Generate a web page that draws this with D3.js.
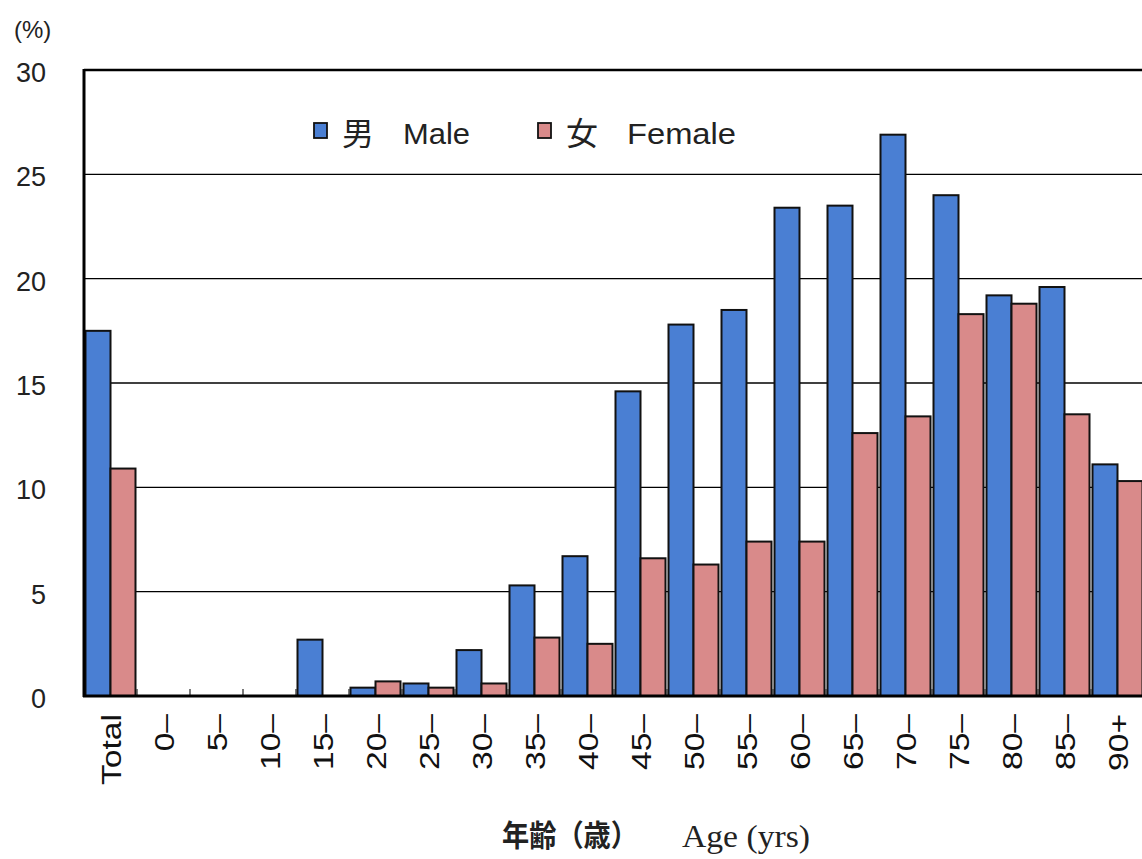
<!DOCTYPE html>
<html><head><meta charset="utf-8">
<script src="https://cdn.jsdelivr.net/npm/d3@7"></script>
<style>
body{margin:0;background:#fff;}
svg{display:block;}
</style></head>
<body>
<svg id="chart" width="1142" height="859"></svg>
<script>
const categories = ["Total","0\u2013","5\u2013","10\u2013","15\u2013","20\u2013","25\u2013","30\u2013","35\u2013","40\u2013","45\u2013","50\u2013","55\u2013","60\u2013","65\u2013","70\u2013","75\u2013","80\u2013","85\u2013","90+"];
const maleValues   = [17.5,0,0,0,2.7,0.4,0.6,2.2,5.3,6.7,14.6,17.8,18.5,23.4,23.5,26.9,24.0,19.2,19.6,11.1];
const femaleValues = [10.9,0,0,0,0,0.7,0.4,0.6,2.8,2.5,6.6,6.3,7.4,7.4,12.6,13.4,18.3,18.8,13.5,10.3];
const yTicks = [0,5,10,15,20,25,30];
const seriesNames = [{zh:"男",en:"Male"},{zh:"女",en:"Female"}];
const colors = ["#4a7fd3","#d98a8a"];

const svg = d3.select("#chart");
const pL = 84, pR = 1144, pT = 70, pB = 696;

const x = d3.scaleBand().domain(categories).range([pL,pR]).paddingInner(0).paddingOuter(0);
const x1 = d3.scaleBand().domain([0,1]).range([0,x.bandwidth()]).paddingOuter(0.06).paddingInner(0);
const y = d3.scaleLinear().domain([0,30]).range([pB,pT]);

// gridlines
svg.append("g").selectAll("line").data(yTicks.filter(d=>d>0 && d<30)).join("line")
  .attr("x1",pL).attr("x2",pR).attr("y1",d=>y(d)).attr("y2",d=>y(d))
  .attr("stroke","#000").attr("stroke-width",1.3);
// top border
svg.append("line").attr("x1",pL).attr("x2",pR).attr("y1",y(30)).attr("y2",y(30))
  .attr("stroke","#000").attr("stroke-width",2.5);

// bars
const data = categories.map((c,i)=>({c, v:[maleValues[i],femaleValues[i]]}));
const groups = svg.append("g").selectAll("g").data(data).join("g")
  .attr("transform",d=>`translate(${x(d.c)},0)`);
groups.selectAll("rect").data(d=>d.v.map((v,k)=>({v,k})).filter(d=>d.v>0)).join("rect")
  .attr("x",d=>x1(d.k)).attr("width",x1.bandwidth())
  .attr("y",d=>y(d.v)).attr("height",d=>y(0)-y(d.v))
  .attr("fill",d=>colors[d.k]).attr("stroke","#111").attr("stroke-width",2);

// x tick marks between categories
svg.append("g").selectAll("line").data(categories.slice(1)).join("line")
  .attr("x1",d=>x(d)).attr("x2",d=>x(d)).attr("y1",pB).attr("y2",pB-7)
  .attr("stroke","#333").attr("stroke-width",1.3);

// axes lines
svg.append("line").attr("x1",pL).attr("x2",pL).attr("y1",pT-1).attr("y2",pB+1)
  .attr("stroke","#000").attr("stroke-width",3);
svg.append("line").attr("x1",pL-1).attr("x2",pR).attr("y1",pB).attr("y2",pB)
  .attr("stroke","#000").attr("stroke-width",3);

// y tick labels
svg.append("g").selectAll("text").data(yTicks).join("text")
  .attr("x",46).attr("y",d=>y(d)+12).attr("text-anchor","end")
  .attr("font-family","Liberation Sans, Arial, sans-serif").attr("font-size",27)
  .attr("fill","#222").text(d=>d);
svg.append("text").attr("x",14).attr("y",38)
  .attr("font-family","Liberation Sans, Arial, sans-serif").attr("font-size",24)
  .attr("fill","#222").text("(%)");

// x labels rotated
svg.append("g").selectAll("text").data(categories).join("text")
  .attr("transform",d=>`translate(${x(d)+x.bandwidth()/2+10},${pB+18}) rotate(-90) scale(1.2,1)`)
  .attr("text-anchor","end")
  .attr("font-family","Liberation Sans, Arial, sans-serif").attr("font-size",28)
  .attr("fill","#111").text(d=>d);

// axis title
svg.append("text").attr("x",502).attr("y",846).attr("fill","#222")
  .attr("font-family","Noto Sans CJK JP").attr("font-weight","bold").attr("font-size",30)
  .attr("textLength",136).attr("lengthAdjust","spacingAndGlyphs").text("年齢（歳）");
svg.append("text").attr("x",682).attr("y",847).attr("fill","#222")
  .attr("font-family","Liberation Serif, Times New Roman, serif").attr("font-size",31)
  .attr("textLength",128).attr("lengthAdjust","spacingAndGlyphs").text("Age (yrs)");

// legend
const legX = [312, 536];
const legW = [67, 109];
const leg = svg.append("g").selectAll("g").data(seriesNames).join("g")
  .attr("transform",(d,i)=>`translate(${legX[i]},0)`);
leg.append("rect").attr("x",2).attr("y",123).attr("width",13).attr("height",15)
  .attr("fill",(d,i)=>colors[i]).attr("stroke","#111").attr("stroke-width",1.8);
leg.append("text").attr("x",30).attr("y",145)
  .attr("font-family","Noto Sans CJK JP").attr("font-size",32).attr("fill","#222").text(d=>d.zh);
leg.append("text").attr("x",91).attr("y",144)
  .attr("font-family","Liberation Sans, Arial, sans-serif").attr("font-size",30)
  .attr("textLength",(d,i)=>legW[i]).attr("lengthAdjust","spacingAndGlyphs")
  .attr("fill","#222").text(d=>d.en);
</script>
</body></html>
